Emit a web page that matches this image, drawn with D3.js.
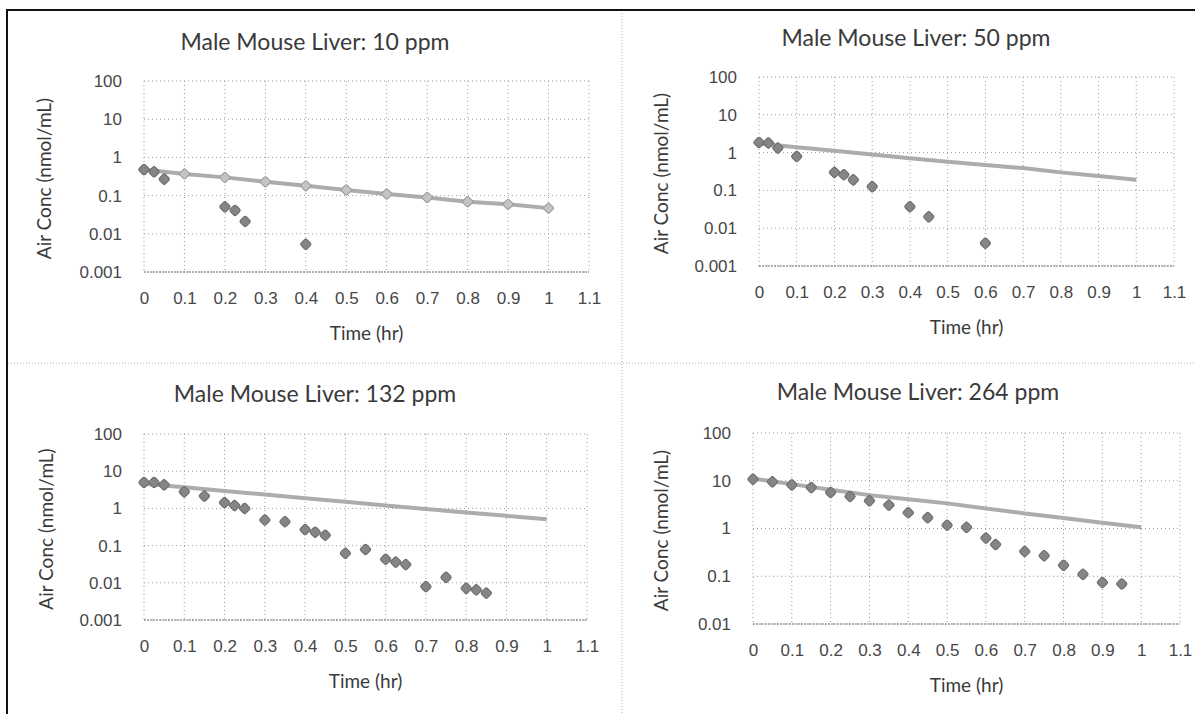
<!DOCTYPE html>
<html>
<head>
<meta charset="utf-8">
<script src="https://cdn.jsdelivr.net/npm/d3@7"></script>
<style>
  body { margin: 0; background: #fff; }
  svg { display: block; font-family: Lato, "Open Sans", sans-serif; }
  .tick text { fill: #474747; font-size: 17px; }
</style>
</head>
<body>
<svg id="chart" width="1195" height="714"></svg>
<script>
// tick values and labels
const xTicks = [0, 0.1, 0.2, 0.3, 0.4, 0.5, 0.6, 0.7, 0.8, 0.9, 1, 1.1];
const yTicksLow = [0.001, 0.01, 0.1, 1, 10, 100];
const yTicksHigh = [0.01, 0.1, 1, 10, 100];
const titles = ["Male Mouse Liver: 10 ppm", "Male Mouse Liver: 50 ppm",
  "Male Mouse Liver: 132 ppm", "Male Mouse Liver: 264 ppm"];

// model curves (every 0.1 hr)
const modelTime = [0, 0.1, 0.2, 0.3, 0.4, 0.5, 0.6, 0.7, 0.8, 0.9, 1.0];
const model10 = [0.48, 0.37, 0.30, 0.23, 0.18, 0.14, 0.11, 0.089, 0.069, 0.059, 0.047];
const model50 = [1.75, 1.38, 1.12, 0.89, 0.71, 0.57, 0.47, 0.39, 0.30, 0.24, 0.19];
const model132 = [4.6, 3.7, 2.95, 2.35, 1.88, 1.52, 1.2, 0.96, 0.78, 0.63, 0.51];
const model264 = [11.1, 8.5, 6.5, 5.0, 4.1, 3.36, 2.63, 2.07, 1.66, 1.32, 1.06];

// measured points
const obs10Time = [0, 0.025, 0.05, 0.2, 0.225, 0.25, 0.4];
const obs10Conc = [0.48, 0.42, 0.27, 0.051, 0.041, 0.021, 0.0053];
const obs50Time = [0, 0.025, 0.05, 0.1, 0.2, 0.225, 0.25, 0.3, 0.4, 0.45, 0.6];
const obs50Conc = [1.86, 1.8, 1.32, 0.79, 0.30, 0.26, 0.19, 0.126, 0.037, 0.020, 0.004];
const obs132Time = [0, 0.025, 0.05, 0.1, 0.15, 0.2, 0.225, 0.25, 0.3, 0.35, 0.4, 0.425, 0.45,
  0.5, 0.55, 0.6, 0.625, 0.65, 0.7, 0.75, 0.8, 0.825, 0.85];
const obs132Conc = [5.0, 5.0, 4.3, 2.8, 2.15, 1.43, 1.19, 1.0, 0.49, 0.44, 0.27, 0.23, 0.19,
  0.062, 0.079, 0.043, 0.036, 0.031, 0.0079, 0.014, 0.0071, 0.0065, 0.0053];
const obs264Time = [0, 0.05, 0.1, 0.15, 0.2, 0.25, 0.3, 0.35, 0.4, 0.45, 0.5, 0.55, 0.6, 0.625,
  0.7, 0.75, 0.8, 0.85, 0.9, 0.95];
const obs264Conc = [10.8, 9.5, 8.2, 7.2, 5.7, 4.7, 3.8, 3.1, 2.14, 1.69, 1.17, 1.06, 0.63, 0.46,
  0.33, 0.27, 0.17, 0.11, 0.074, 0.069];

const panels = [
  { title: titles[0], model: model10, t: obs10Time, c: obs10Conc, yt: yTicksLow, lineMarks: true,
    x0: 144, x1: 589, y0: 81, y1: 272, tx: 315, ty: 50, ax: 44 },
  { title: titles[1], model: model50, t: obs50Time, c: obs50Conc, yt: yTicksLow,
    x0: 759, x1: 1174, y0: 77, y1: 266, tx: 916, ty: 46, ax: 661 },
  { title: titles[2], model: model132, t: obs132Time, c: obs132Conc, yt: yTicksLow,
    x0: 144, x1: 587, y0: 434, y1: 620, tx: 315, ty: 402, ax: 46 },
  { title: titles[3], model: model264, t: obs264Time, c: obs264Conc, yt: yTicksHigh,
    x0: 753, x1: 1180, y0: 433, y1: 624, tx: 918, ty: 400, ax: 661 }
];

const svg = d3.select("#chart");

// panel separators and frame
svg.append("line").attr("x1", 622).attr("x2", 622).attr("y1", 10).attr("y2", 714)
  .attr("stroke", "#aaa").attr("stroke-dasharray", "1,2");
svg.append("line").attr("x1", 8).attr("x2", 1195).attr("y1", 363).attr("y2", 363)
  .attr("stroke", "#aaa").attr("stroke-dasharray", "1,2");
svg.append("line").attr("x1", 7).attr("x2", 1195).attr("y1", 10).attr("y2", 10)
  .attr("stroke", "#111").attr("stroke-width", 2);
svg.append("line").attr("x1", 7).attr("x2", 7).attr("y1", 9).attr("y2", 714)
  .attr("stroke", "#111").attr("stroke-width", 2);

const fmt = d => String(d);

panels.forEach(p => {
  const g = svg.append("g");
  const x = d3.scaleLinear().domain([0, 1.1]).range([p.x0, p.x1]);
  const y = d3.scaleLog().domain([p.yt[0], 100]).range([p.y1, p.y0]);

  // dotted grid
  g.append("g").selectAll("line").data(xTicks).join("line")
    .attr("x1", d => x(d)).attr("x2", d => x(d)).attr("y1", p.y0).attr("y2", p.y1)
    .attr("stroke", "#9a9a9a").attr("stroke-dasharray", "1,3");
  g.append("g").selectAll("line").data(p.yt).join("line")
    .attr("x1", p.x0).attr("x2", p.x1).attr("y1", d => y(d)).attr("y2", d => y(d))
    .attr("stroke", "#9a9a9a").attr("stroke-dasharray", "1,3");
  g.append("line").attr("x1", p.x0).attr("x2", p.x1).attr("y1", p.y1).attr("y2", p.y1)
    .attr("stroke", "#777").attr("stroke-dasharray", "2,1");

  // axes
  g.append("g").attr("transform", `translate(0,${p.y1})`)
    .call(d3.axisBottom(x).tickValues(xTicks).tickFormat(fmt).tickSize(0).tickPadding(20))
    .call(a => a.select(".domain").remove());
  g.append("g").attr("transform", `translate(${p.x0},0)`)
    .call(d3.axisLeft(y).tickValues(p.yt).tickFormat(fmt).tickSize(0).tickPadding(22))
    .call(a => a.select(".domain").remove());

  // titles
  g.append("text").attr("x", p.tx).attr("y", p.ty).attr("text-anchor", "middle")
    .attr("fill", "#3a3a3a").style("font-size", "23px").text(p.title);
  g.append("text").attr("x", (p.x0 + p.x1) / 2).attr("y", p.y1 + 68).attr("text-anchor", "middle")
    .attr("fill", "#3a3a3a").style("font-size", "19px").text("Time (hr)");
  g.append("text").attr("transform", `translate(${p.ax},${(p.y0 + p.y1) / 2 + 2}) rotate(-90)`)
    .attr("text-anchor", "middle").attr("dy", "0.35em")
    .attr("fill", "#3a3a3a").style("font-size", "19px").text("Air Conc (nmol/mL)");

  // model line
  const line = d3.line().x((d, i) => x(modelTime[i])).y(d => y(d));
  g.append("path").datum(p.model).attr("d", line)
    .attr("fill", "none").attr("stroke", "#acacac").attr("stroke-width", 4);
  if (p.lineMarks) {
    g.append("g").selectAll("rect").data(p.model).join("rect")
      .attr("transform", (d, i) => `translate(${x(modelTime[i])},${y(d)}) rotate(45)`)
      .attr("x", -4).attr("y", -4).attr("width", 8).attr("height", 8).attr("rx", 1.5)
      .attr("fill", "#c4c4c4").attr("stroke", "#999");
  }

  // measured points
  g.append("g").selectAll("rect").data(p.c).join("rect")
    .attr("transform", (d, i) => `translate(${x(p.t[i])},${y(d)}) rotate(45)`)
    .attr("x", -4.2).attr("y", -4.2).attr("width", 8.4).attr("height", 8.4).attr("rx", 2)
    .attr("fill", "#858585").attr("stroke", "#6a6a6a").attr("stroke-width", 1);
});
</script>
</body>
</html>
